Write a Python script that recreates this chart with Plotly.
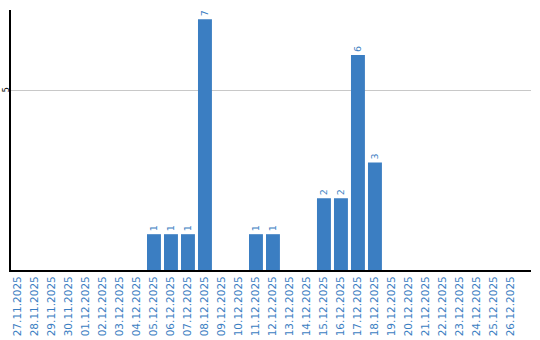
import plotly.graph_objects as go

dates = ["27.11.2025", "28.11.2025", "29.11.2025", "30.11.2025", "01.12.2025",
         "02.12.2025", "03.12.2025", "04.12.2025", "05.12.2025", "06.12.2025",
         "07.12.2025", "08.12.2025", "09.12.2025", "10.12.2025", "11.12.2025",
         "12.12.2025", "13.12.2025", "14.12.2025", "15.12.2025", "16.12.2025",
         "17.12.2025", "18.12.2025", "19.12.2025", "20.12.2025", "21.12.2025",
         "22.12.2025", "23.12.2025", "24.12.2025", "25.12.2025", "26.12.2025"]
counts = [0, 0, 0, 0, 0, 0, 0, 0, 1, 1, 1, 7, 0, 0, 1, 1, 0, 0, 2, 2, 6, 3,
          0, 0, 0, 0, 0, 0, 0, 0]

blue = "#3b7ec2"
labels = [str(v) if v > 0 else "" for v in counts]

fig = go.Figure(go.Bar(
    x=dates, y=counts, marker=dict(color=blue, line=dict(width=0)),
    text=labels, textposition="outside", textangle=-90,
    textfont=dict(color=blue, size=9.5, family="DejaVu Sans"),
    cliponaxis=False, width=0.82,
))

fig.update_layout(
    width=540, height=340,
    margin=dict(l=11, r=9, t=10, b=70),
    plot_bgcolor="white", paper_bgcolor="white",
    showlegend=False,
    xaxis=dict(type="category", range=[-0.41, 30.18], tickangle=-90,
               tickfont=dict(color=blue, size=10.5, family="DejaVu Sans"),
               showgrid=False, showline=True, linecolor="black", linewidth=2,
               ticks="", fixedrange=True, automargin=False),
    yaxis=dict(range=[0, 7.26], tickvals=[5], ticktext=["5"], tickangle=-90,
               tickfont=dict(color="black", size=8, family="DejaVu Sans"),
               showgrid=True, gridcolor="#c8c8c8", gridwidth=1,
               showline=True, linecolor="black", linewidth=2,
               zeroline=False, ticks="", ticklen=0, fixedrange=True,
               automargin=False, ticklabelstandoff=-3),
)

fig.write_html("out.html")
